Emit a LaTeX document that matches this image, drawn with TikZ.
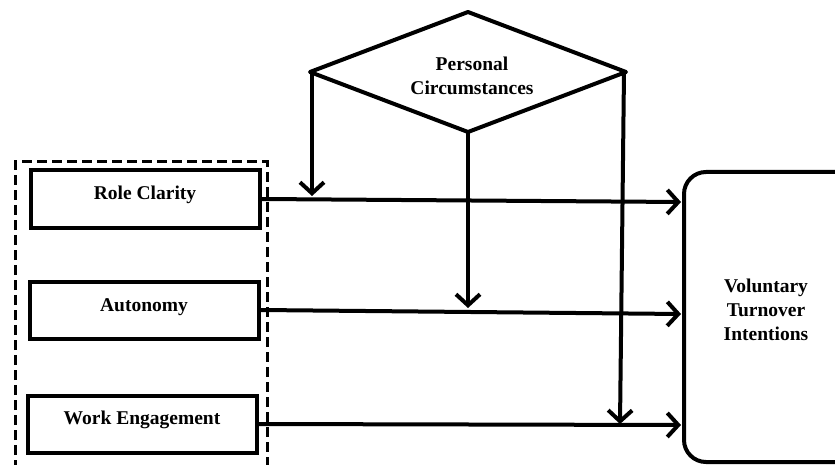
\documentclass[tikz,border=0pt]{standalone}
\usepackage{fontspec}
\setmainfont{Liberation Serif}
\usetikzlibrary{arrows.meta,shapes.geometric}
\begin{document}
\begin{tikzpicture}[x=1pt,y=-1pt,
  lw/.style={line width=4pt},
  box/.style={draw,lw,minimum width=229pt,minimum height=57pt,inner sep=0pt},
  lbl/.style={font=\fontsize{19.5}{24}\selectfont\bfseries,align=center},
  arr/.style={lw,-{Straight Barb[length=11pt,width=24pt,line width=4pt]}}]
\useasboundingbox (0,0) rectangle (835,465);
\fill[white] (0,0) rectangle (835,465);
\begin{scope}
\clip (0,0) rectangle (835,465);
% dashed group
\draw[line width=3pt,dash pattern=on 10pt off 5pt] (15,470) -- (15,162) -- (267,162) -- (267,470);
% VTI
\draw[lw,rounded corners=22pt] (684,172) rectangle (860,462);
\end{scope}
\node[lbl] (vti) at (766,310) {Voluntary\\Turnover\\Intentions};
% boxes
\node[box] (rc) at (145,199) {};
\node[lbl,anchor=base] at (145,200) {Role Clarity};
\node[box] (au) at (144,310) {};
\node[lbl,anchor=base] at (144,311) {Autonomy};
\node[box] (we) at (142,424) {};
\node[lbl,anchor=base] at (142,424) {Work Engagement};
% diamond
\coordinate (dt) at (468,12);
\coordinate (dl) at (310,72);
\coordinate (dr) at (626,72);
\coordinate (db) at (468,132);
\draw[lw,line join=round] (dt) -- (dr) -- (db) -- (dl) -- cycle;
\node[lbl] (pc) at (472,76) {Personal\\Circumstances};
% main arrows
\coordinate (t1) at (681,202);
\coordinate (t2) at (681,314);
\coordinate (t3) at (681,425);
\draw[arr] (rc.east) -- (t1);
\draw[arr] (au.east) -- (t2);
\draw[arr] (we.east) -- (t3);
% moderator arrows
\coordinate (m1) at (312,196);
\coordinate (m2) at (468,308);
\coordinate (m3) at (620,424);
\draw[arr] (312,72) -- (m1);
\draw[arr] (db) -- (m2);
\draw[arr] (624,72) -- (m3);
\end{tikzpicture}
\end{document}
